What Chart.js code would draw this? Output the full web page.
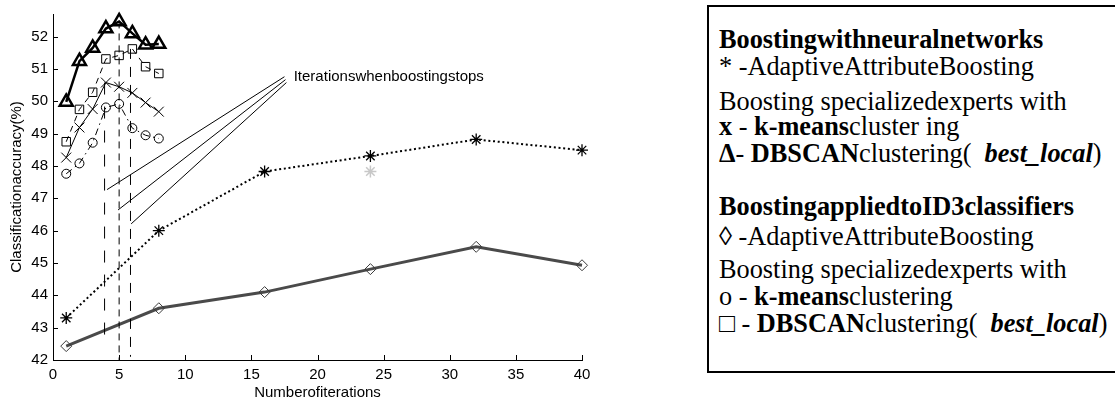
<!DOCTYPE html>
<html>
<head>
<meta charset="utf-8">
<script src="https://cdn.jsdelivr.net/npm/chart.js@4"></script>
<style>
  html, body { margin: 0; padding: 0; background: #fff; }
  #wrap { position: relative; width: 1115px; height: 402px; background: #fff; overflow: hidden; }
  #plot { position: absolute; left: 0; top: 0; width: 600px; height: 402px; }
  #legend { position: absolute; left: 707px; top: 5px; width: 412px; height: 368px; border: 2px solid #000;
            box-sizing: border-box; font-family: 'Liberation Serif', 'DejaVu Serif', serif; font-size: 26.3px; color: #000; }
  #legend div { position: absolute; left: 10px; white-space: pre; line-height: 25px; }
</style>
</head>
<body>
<div id="wrap">
  <div id="plot"><canvas id="c" width="600" height="402"></canvas></div>
  <div id="legend">
    <div style="top:20px"><b>Boostingwithneuralnetworks</b></div>
    <div style="top:47px">* -AdaptiveAttributeBoosting</div>
    <div style="top:82px">Boosting specializedexperts with</div>
    <div style="top:107px"><b>x</b> - <b>k-means</b>cluster ing</div>
    <div style="top:134px"><b>Δ</b>- <b>DBSCAN</b>clustering(  <b><i>best_local</i></b>)</div>
    <div style="top:187px"><b>BoostingappliedtoID3classifiers</b></div>
    <div style="top:217px"><b>◊</b> -AdaptiveAttributeBoosting</div>
    <div style="top:250px">Boosting specializedexperts with</div>
    <div style="top:277px">o - <b>k-means</b>clustering</div>
    <div style="top:304px">□ - <b>DBSCAN</b>clustering(  <b><i>best_local</i></b>)</div>
  </div>
</div>
<script>
// ---- data ----
const iterShort = [1, 2, 3, 4, 5, 6, 7, 8];
const iterLong = [1, 8, 16, 24, 32, 40];

const nnAAB = [43.3, 46.0, 47.83, 48.31, 48.82, 48.49];          // * dotted
const id3AAB = [42.43, 43.6, 44.1, 44.81, 45.5, 44.93];          // diamond, solid gray
const nnKmeans = [48.26, 49.19, 49.76, 50.58, 50.45, 50.26, 49.96, 49.68];   // x
const nnDbscan = [49.98, 51.24, 51.65, 52.25, 52.47, 52.1, 51.75, 51.77];    // triangle
const id3Kmeans = [47.76, 48.08, 48.72, 49.81, 49.92, 49.17, 48.95, 48.85];  // o
const id3Dbscan = [48.75, 49.75, 50.28, 51.31, 51.42, 51.62, 51.07, 50.86];  // square

const grayPointX = [24];
const grayPointY = [47.83];

// iterations where boosting stops (vertical lines)
const stopIter = [3.9, 5, 5.86];
const stopTop = [50.58, 52.47, 51.62];
const stopBottom = [42.5, 42.0, 42.1];

// pointer lines from the annotation text
const pointerStartX = [17.5, 17.58, 17.65];
const pointerStartY = [50.76, 50.67, 50.58];
const pointerEndX = [4.09, 4.92, 5.91];
const pointerEndY = [47.27, 46.64, 46.21];
const annotText = 'Iterationswhenboostingstops';
const annotAt = [18.2, 50.76];

const xTicks = [0, 5, 10, 15, 20, 25, 30, 35, 40];
const yTicks = [42, 43, 44, 45, 46, 47, 48, 49, 50, 51, 52];
const xTitle = 'Numberofiterations';
const yTitle = 'Classificationaccuracy(%)';

// ---- build ----
const pts = (xs, ys) => xs.map((x, i) => ({ x: x, y: ys[i] }));

const stopDashes = [[12, 12], [7, 5], [10, 8]];
const datasets = [];

stopIter.forEach((x, i) => {
  datasets.push({
    data: [{ x: x, y: stopTop[i] }, { x: x, y: stopBottom[i] }],
    borderColor: '#000', borderWidth: 1, borderDash: stopDashes[i],
    pointRadius: 0, fill: false
  });
});
pointerStartX.forEach((x, i) => {
  datasets.push({
    data: [{ x: x, y: pointerStartY[i] }, { x: pointerEndX[i], y: pointerEndY[i] }],
    borderColor: '#000', borderWidth: 1, pointRadius: 0, fill: false
  });
});

datasets.push({
  data: pts(iterLong, id3AAB), borderColor: '#4a4a4a', borderWidth: 3,
  pointStyle: 'rectRot', pointRadius: 5.5, pointBorderWidth: 1,
  pointBorderColor: '#3a3a3a', pointBackgroundColor: 'rgba(255,255,255,0)'
});
datasets.push({
  data: pts(iterLong, nnAAB), borderColor: '#000', borderWidth: 2, borderDash: [2, 2.7],
  pointStyle: 'star', pointRadius: 6, pointBorderWidth: 1.3,
  pointBorderColor: '#000', pointBackgroundColor: '#000'
});
datasets.push({
  data: pts(grayPointX, grayPointY), showLine: false,
  pointStyle: 'star', pointRadius: 6, pointBorderWidth: 1.5,
  pointBorderColor: '#c8c8c8', pointBackgroundColor: '#c8c8c8'
});
datasets.push({
  data: pts(iterShort, id3Kmeans), borderColor: '#000', borderWidth: 1, borderDash: [7, 4, 1.5, 4],
  pointStyle: 'circle', pointRadius: 4.5, pointBorderWidth: 1,
  pointBorderColor: '#000', pointBackgroundColor: 'rgba(255,255,255,0)'
});
datasets.push({
  data: pts(iterShort, id3Dbscan), borderColor: '#000', borderWidth: 1, borderDash: [6, 5],
  pointStyle: 'rect', pointRadius: 6, pointBorderWidth: 1,
  pointBorderColor: '#000', pointBackgroundColor: 'rgba(255,255,255,0)'
});
datasets.push({
  data: pts(iterShort, nnKmeans), borderColor: '#000', borderWidth: 1,
  pointStyle: 'crossRot', pointRadius: 7, pointBorderWidth: 1,
  pointBorderColor: '#000'
});
datasets.push({
  data: pts(iterShort, nnDbscan), borderColor: '#000', borderWidth: 2.5,
  pointStyle: 'triangle', pointRadius: 7.5, pointBorderWidth: 2.5,
  pointBorderColor: '#000', pointBackgroundColor: 'rgba(255,255,255,0)'
});

const inwardTicks = {
  id: 'inwardTicks',
  afterDraw(chart) {
    const { ctx, chartArea, scales } = chart;
    ctx.save();
    ctx.strokeStyle = '#000';
    ctx.lineWidth = 1;
    ctx.beginPath();
    scales.x.ticks.forEach(t => {
      const px = Math.round(scales.x.getPixelForValue(t.value)) + 0.5;
      ctx.moveTo(px, chartArea.bottom);
      ctx.lineTo(px, chartArea.bottom - 5);
    });
    scales.y.ticks.forEach(t => {
      const py = Math.round(scales.y.getPixelForValue(t.value)) + 0.5;
      ctx.moveTo(chartArea.left, py);
      ctx.lineTo(chartArea.left + 5, py);
    });
    ctx.stroke();
    ctx.fillStyle = '#000';
    ctx.font = '15px "Liberation Sans", Arial, sans-serif';
    ctx.textBaseline = 'middle';
    ctx.textAlign = 'left';
    ctx.fillText(annotText, scales.x.getPixelForValue(annotAt[0]), scales.y.getPixelForValue(annotAt[1]));
    ctx.restore();
  }
};

Chart.defaults.font.family = '"Liberation Sans", Arial, sans-serif';
Chart.defaults.font.size = 15;
Chart.defaults.color = '#000';

new Chart(document.getElementById('c'), {
  type: 'line',
  data: { datasets: datasets },
  options: {
    responsive: false,
    animation: false,
    clip: false,
    layout: { padding: { top: 7, right: 18, left: 0, bottom: 0 } },
    plugins: { legend: { display: false }, tooltip: { enabled: false } },
    elements: { line: { tension: 0, fill: false } },
    scales: {
      x: {
        type: 'linear', min: 0, max: 40,
        afterBuildTicks: s => { s.ticks = xTicks.map(v => ({ value: v })); },
        afterFit: s => { s.height = 42; },
        grid: { display: true, drawOnChartArea: false, drawTicks: false },
        border: { display: true, color: '#000', width: 1 },
        ticks: { padding: 6, color: '#000', font: { size: 15 } },
        title: { display: true, text: xTitle, color: '#000', font: { size: 15 }, padding: { top: 0, bottom: 0 } }
      },
      y: {
        type: 'linear', min: 42, max: 52.7,
        afterBuildTicks: s => { s.ticks = yTicks.map(v => ({ value: v })); },
        afterFit: s => { s.width = 53; },
        grid: { display: true, drawOnChartArea: false, drawTicks: false },
        border: { display: true, color: '#000', width: 1 },
        ticks: { padding: 5, color: '#000', font: { size: 15 } },
        title: { display: true, text: yTitle, color: '#000', font: { size: 15 }, padding: { top: 8, bottom: 0 } }
      }
    }
  },
  plugins: [inwardTicks]
});
</script>
</body>
</html>
